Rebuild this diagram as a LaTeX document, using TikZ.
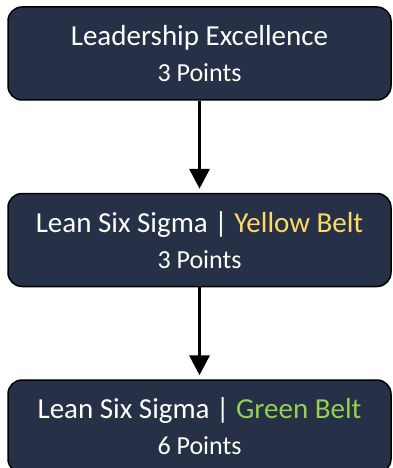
\documentclass[tikz,border=0pt]{standalone}
\usepackage{fontspec}
\setmainfont{Carlito}
\usetikzlibrary{positioning,arrows.meta}
\definecolor{navy}{HTML}{263147}
\definecolor{beltyellow}{HTML}{FFD966}
\definecolor{beltgreen}{HTML}{92D050}

\begin{document}
\begin{tikzpicture}[x=1pt,y=1pt,
	level/.style={draw=black,line width=1.5pt,fill=navy,rounded corners=14pt,
		minimum width=383pt,minimum height=93pt,inner sep=0pt,
		text=white,align=center,font=\fontsize{29}{36}\selectfont},
	link/.style={-{Triangle[length=20pt,width=20pt]},line width=3.5pt,shorten >=4pt}]
	
	\def\gap{92};
	\def\pts{\fontsize{26}{36}\selectfont};
	
	\clip (0,0) rectangle (393,-468);
	
	\node[level] (leader) at (199.5,-53.5) {Leadership Excellence\\ \pts 3 Points};
	\node[level,below=\gap pt of leader] (yellow) {Lean Six Sigma | \textcolor{beltyellow}{Yellow Belt}\\ \pts 3 Points};
	\node[level,below=\gap pt of yellow] (green) {Lean Six Sigma | \textcolor{beltgreen}{Green Belt}\\ \pts 6 Points};
	
	\draw[link] (leader) -- (yellow);
	\draw[link] (yellow) -- (green);
	
\end{tikzpicture}
\end{document}
